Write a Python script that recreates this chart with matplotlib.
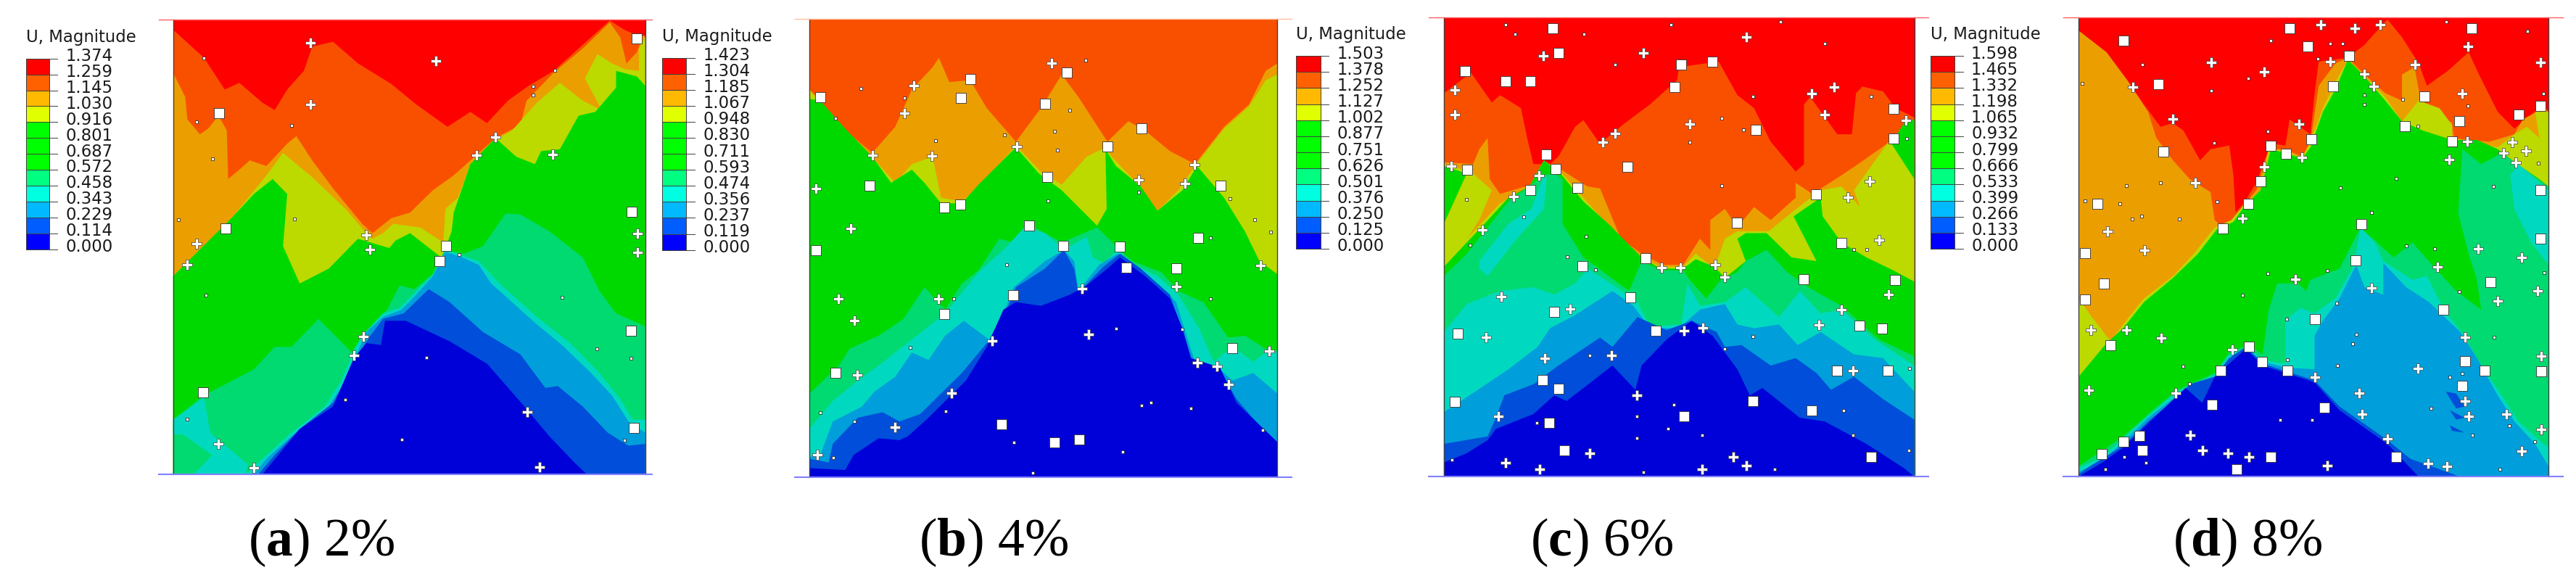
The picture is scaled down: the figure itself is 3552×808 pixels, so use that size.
import matplotlib
matplotlib.use("Agg")
import matplotlib.pyplot as plt

plt.rcParams['mathtext.fontset'] = 'custom'
plt.rcParams['mathtext.rm'] = 'Liberation Serif'
plt.rcParams['mathtext.bf'] = 'Liberation Serif:bold'

RED, ORANGERED, ORANGE, YELLOW = '#FE0000', '#F95000', '#EB9E00', '#BCDA00'
GREEN, TEAL, CYAN, SKY, BLUE, NAVY = '#00D900', '#00DA70', '#00D9C0', '#009EDA', '#004EDA', '#0000D9'
legend_colors = ['#FF0000', '#FF6000', '#FFB900', '#E0FF00', '#00FF00', '#00FF00', '#00FF00',
                 '#00FF80', '#00FFE0', '#00B9FF', '#005DFF', '#0000FF']

# tick labels
a_ticks = ['1.374', '1.259', '1.145', '1.030', '0.916', '0.801', '0.687', '0.572', '0.458', '0.343', '0.229', '0.114', '0.000']
b_ticks = ['1.423', '1.304', '1.185', '1.067', '0.948', '0.830', '0.711', '0.593', '0.474', '0.356', '0.237', '0.119', '0.000']
c_ticks = ['1.503', '1.378', '1.252', '1.127', '1.002', '0.877', '0.751', '0.626', '0.501', '0.376', '0.250', '0.125', '0.000']
d_ticks = ['1.598', '1.465', '1.332', '1.198', '1.065', '0.932', '0.799', '0.666', '0.533', '0.399', '0.266', '0.133', '0.000']

# ---- panel a: contour bands, painted top band first
a_orangered = [(418,82),(490,155),(540,240),(575,222),(630,275),(660,295),(690,240),(730,190),(750,125),(800,112),(860,170),(940,225),(1000,280),(1075,340),(1130,300),(1170,330),(1220,270),(1270,230),(1330,190),(1400,120),(1465,55),(1500,80),(1530,95),(1550,95),(1550,1272),(416,1272)]
a_orange = [(418,200),(445,260),(450,320),(480,360),(500,345),(525,310),(545,350),(548,480),(580,450),(600,430),(640,445),(690,385),(712,365),(750,430),(800,505),(870,600),(895,625),(940,585),(985,570),(1040,510),(1090,470),(1130,430),(1190,370),(1250,335),(1265,270),(1330,195),(1400,130),(1465,60),(1490,100),(1505,170),(1530,140),(1545,95),(1550,100),(1550,1272),(416,1272)]
a_yellow = [(416,740),(470,680),(560,580),(640,470),(680,410),(750,475),(830,560),(880,625),(895,640),(920,625),(945,600),(1010,610),(1065,650),(1070,560),(1100,530),(1130,440),(1190,375),(1230,350),(1290,275),(1345,222),(1400,270),(1445,295),(1405,210),(1435,145),(1470,170),(1500,185),(1535,190),(1535,130),(1550,100),(1550,1272),(416,1272)]
a_green = [(416,740),(470,680),(560,580),(610,520),(655,480),(690,520),(680,660),(720,760),(790,720),(860,640),(890,650),(935,665),(950,645),(985,625),(1060,690),(1075,650),(1085,620),(1090,570),(1130,440),(1190,370),(1240,420),(1285,440),(1300,405),(1345,400),(1390,310),(1430,300),(1480,235),(1480,190),(1530,205),(1550,230),(1550,1272),(416,1272)]
a_teal = [(416,1125),(490,1060),(610,990),(660,930),(700,930),(765,855),(845,945),(870,900),(930,830),(960,765),(995,775),(1040,735),(1070,670),(1115,680),(1160,660),(1215,572),(1250,575),(1320,620),(1400,690),(1440,780),(1480,840),(1550,875),(1550,1272),(416,1272)]
a_cyan_left = [(416,1125),(490,1065),(505,1160),(595,1245),(590,1272),(465,1272),(510,1220),(440,1165),(416,1165)]
a_cyan = [(590,1272),(620,1240),(700,1160),(780,1090),(820,1020),(850,940),(870,900),(920,840),(960,825),(1000,780),(1040,735),(1070,670),(1110,685),(1150,700),(1200,760),(1290,850),(1370,920),(1440,1000),(1490,1070),(1520,1125),(1550,1125),(1550,1272)]
a_sky = [(610,1272),(640,1230),(700,1170),(790,1090),(830,1020),(860,940),(880,890),(920,850),(965,830),(1000,790),(1040,740),(1070,675),(1110,690),(1150,710),(1180,760),(1290,870),(1350,925),(1420,1000),(1470,1060),(1510,1130),(1550,1160),(1550,1272)]
a_blue = [(620,1272),(660,1220),(720,1150),(800,1080),(830,1020),(860,950),(890,900),(920,855),(970,840),(1030,775),(1080,810),(1160,890),(1250,950),(1310,1040),(1340,1035),(1400,1090),(1460,1160),(1510,1195),(1550,1190),(1550,1272)]
a_navy = [(630,1272),(720,1150),(800,1090),(850,960),(880,920),(915,925),(925,860),(975,860),(1080,915),(1170,975),(1260,1090),(1320,1170),(1380,1240),(1410,1272)]
a_big = [(527,303),(541,612),(1071,660),(1056,699),(1530,104),(1517,568),(1516,887),(488,1052),(1523,1147)]
a_small = [(490,155),(473,327),(701,337),(511,426),(428,589),(707,588),(495,791),(1333,188),(1280,231),(1280,254),(1102,682),(1351,797),(1433,936),(1516,961),(1025,958),(829,1072),(965,1179),(450,1123),(1500,1180)]
a_plus = [(745,114),(1047,163),(745,280),(1190,368),(1145,417),(1327,414),(880,629),(888,669),(473,654),(450,710),(1532,626),(1532,676),(873,903),(850,952),(1266,1105),(1296,1253),(525,1189),(609,1254)]

# ---- panel b
b_orange = [(394,240),(420,270),(470,340),(545,410),(600,340),(640,240),(690,180),(705,155),(730,220),(780,215),(820,290),(890,380),(950,290),(1000,200),(1040,260),(1110,380),(1160,325),(1200,350),(1260,405),(1320,440),(1390,340),(1450,280),(1490,190),(1518,170),(1518,1280),(394,1280)]
b_yellow = [(394,240),(420,275),(470,345),(540,415),(600,490),(640,440),(690,420),(710,530),(760,540),(800,500),(890,390),(950,460),(1000,495),(1060,420),(1105,395),(1120,420),(1180,490),(1210,540),(1230,565),(1280,510),(1320,445),(1390,345),(1450,285),(1490,215),(1518,200),(1518,1280),(394,1280)]
b_green = [(394,265),(420,270),(480,345),(545,420),(590,490),(640,455),(670,490),(710,545),(760,545),(800,495),(890,395),(945,465),(1000,510),(1085,605),(1108,560),(1105,400),(1130,445),(1190,500),(1230,565),(1290,510),(1325,445),(1390,530),(1440,620),(1475,700),(1518,735),(1518,1280),(394,1280)]
b_teal = [(394,1055),(465,980),(490,935),(560,900),(620,855),(670,770),(720,830),(760,760),(800,725),(850,640),(885,650),(920,600),(1000,650),(1085,610),(1140,670),(1170,700),(1240,730),(1280,780),(1340,810),(1400,905),(1440,900),(1490,935),(1518,940),(1518,1280),(394,1280)]
b_cyan = [(394,1150),(450,1075),(510,1020),(560,980),(640,910),(720,840),(800,730),(860,670),(910,610),(960,625),(1005,670),(1060,635),(1075,690),(1100,705),(1135,670),(1165,705),(1230,740),(1280,790),(1330,880),(1365,970),(1410,930),(1460,970),(1495,940),(1518,945),(1518,1280),(394,1280)]
b_sky = [(394,1225),(420,1220),(450,1130),(520,1090),(550,1050),(600,1010),(640,945),(680,965),(720,900),(765,860),(825,910),(860,840),(885,770),(960,700),(1005,670),(1030,700),(1040,780),(1090,710),(1135,680),(1170,720),(1240,770),(1275,810),(1300,900),(1320,970),(1370,980),(1410,1020),(1460,1000),(1518,1055),(1518,1280),(394,1280)]
b_blue = [(394,1230),(440,1240),(450,1190),(510,1120),(570,1105),(610,1130),(660,1110),(760,1000),(850,880),(890,770),(960,720),(1005,670),(1030,720),(1040,785),(1100,715),(1140,680),(1190,720),(1260,790),(1285,870),(1315,970),(1380,990),(1420,1070),(1470,1135),(1518,1185),(1518,1280),(394,1280)]
b_navy = [(394,1255),(480,1260),(500,1220),(560,1175),(610,1180),(630,1170),(680,1120),(770,1020),(820,930),(860,830),(890,810),(950,820),(1020,790),(1060,765),(1110,720),(1140,690),(1200,740),(1260,800),(1290,880),(1310,960),(1380,985),(1420,1080),(1518,1185),(1518,1280),(394,1280)]
b_big = [(420,261),(780,212),(757,262),(1012,195),(960,278),(1191,344),(1109,393),(966,475),(538,497),(718,556),(756,548),(921,604),(410,670),(1004,660),(1140,662),(1155,717),(1328,637),(1276,719),(1381,498),(884,791),(718,842),(456,999),(1409,933),(855,1137),(982,1186),(1041,1178)]
b_small = [(518,238),(622,262),(1057,161),(457,317),(697,377),(862,361),(1019,295),(982,352),(989,402),(967,539),(1184,516),(1404,533),(1464,590),(1501,623),(1358,637),(868,710),(741,801),(1358,801),(1289,882),(1131,881),(636,932),(420,1106),(502,1129),(451,1227),(721,1103),(885,1186),(930,1268),(1146,1211),(1191,1087),(1214,1079),(1311,1095),(1482,1153)]
b_plus = [(975,169),(645,229),(622,303),(546,417),(689,418),(892,393),(1319,442),(1184,483),(1297,491),(410,506),(493,613),(1478,712),(463,801),(703,801),(501,859),(1275,768),(1048,774),(832,914),(1064,897),(1498,941),(509,1006),(1325,972),(1372,981),(1401,1030),(735,1054),(600,1145),(413,1220)]

# ---- panel c
c_orangered = [(385,250),(450,195),(500,275),(520,255),(570,290),(585,370),(600,440),(640,440),(660,420),(700,340),(720,322),(760,385),(820,330),(880,280),(945,215),(950,180),(1045,165),(1090,255),(1130,290),(1170,380),(1230,460),(1250,440),(1250,280),(1265,260),(1330,360),(1365,360),(1375,250),(1390,232),(1440,245),(1470,290),(1515,315),(1515,1278),(385,1278)]
c_orange = [(385,435),(455,440),(470,400),(490,370),(495,480),(520,520),(580,500),(605,490),(660,450),(730,500),(760,505),(810,640),(860,680),(910,710),(960,710),(1000,640),(1025,670),(1025,590),(1060,560),(1090,610),(1130,555),(1170,590),(1230,530),(1230,490),(1270,520),(1340,470),(1380,440),(1450,385),(1515,320),(1515,1278),(385,1278)]
c_yellow = [(385,440),(450,460),(500,510),(470,590),(440,640),(520,545),(590,500),(625,430),(665,460),(720,530),(760,580),(810,650),(860,690),(905,715),(960,715),(990,680),(1035,720),(1060,640),(1090,620),(1165,620),(1220,570),(1290,510),(1340,500),(1385,555),(1370,510),(1450,385),(1490,340),(1515,325),(1515,1278),(385,1278)]
c_green_left = [(385,445),(440,465),(385,600)]
c_green_right = [(1460,385),(1490,330),(1515,320),(1515,480)]
c_green = [(385,715),(440,650),(470,615),(540,530),(590,500),(625,430),(665,465),(720,540),(780,600),(860,690),(905,720),(960,720),(990,695),(1035,715),(1060,745),(1110,700),(1090,640),(1110,625),(1160,625),(1220,690),(1280,700),(1225,580),(1290,530),(1295,580),(1340,650),(1400,690),(1465,725),(1515,755),(1515,1278),(385,1278)]
c_teal = [(385,740),(440,680),(540,540),(625,470),(650,465),(670,480),(670,600),(720,690),(830,780),(860,700),(905,725),(960,725),(975,750),(1015,800),(1050,750),(1090,730),(1110,700),(1160,670),(1210,730),(1260,770),(1340,820),(1430,910),(1515,955),(1515,1278),(385,1278)]
c_cyan_top = [(470,700),(540,600),(595,560),(625,470),(632,475),(625,560),(560,640),(490,740),(470,720)]
c_cyan = [(385,890),(440,815),(520,780),(600,770),(650,790),(700,760),(730,720),(800,770),(850,810),(880,875),(955,870),(970,760),(1000,820),(1060,810),(1110,770),(1190,850),(1240,780),(1290,840),(1340,830),(1420,910),(1515,980),(1515,1278),(385,1278)]
c_sky = [(385,1105),(460,1050),(540,990),(610,930),(640,880),(700,845),(790,780),(840,820),(880,880),(950,880),(1000,830),(1060,815),(1090,870),(1130,880),(1190,870),(1235,925),(1290,890),(1370,950),(1440,960),(1515,1050),(1515,1278),(385,1278)]
c_blue = [(385,1190),(490,1170),(510,1120),(530,1060),(600,1030),(660,980),(760,905),(790,930),(850,850),(920,885),(980,860),(1040,890),(1060,930),(1100,925),(1170,980),(1230,960),(1280,1000),(1315,1045),(1370,1010),(1440,1070),(1515,1125),(1515,1278),(385,1278)]
c_navy = [(385,1240),(440,1215),(490,1180),(510,1150),(600,1110),(650,1060),(680,1075),(790,980),(845,1045),(860,980),(920,910),(980,860),(1030,900),(1090,990),(1120,1060),(1150,1040),(1240,1120),(1300,1130),(1400,1190),(1490,1255),(1515,1278),(385,1278)]
c_big = [(646,75),(660,141),(435,191),(533,217),(593,217),(954,174),(1029,165),(939,234),(1465,291),(1466,372),(1134,349),(630,415),(441,455),(653,453),(826,448),(592,510),(705,504),(1278,521),(1089,596),(1340,651),(870,693),(718,714),(1249,749),(1468,750),(832,797),(650,837),(893,887),(1384,873),(1438,880),(418,895),(622,1018),(660,1043),(1330,993),(1451,993),(411,1077),(1127,1076),(1269,1101),(638,1133),(961,1116),(675,1208),(1411,1224)]
c_small = [(533,67),(556,91),(721,91),(931,67),(1194,58),(1299,116),(796,174),(1127,258),(1412,258),(1052,316),(1104,349),(976,381),(1497,371),(1052,498),(439,535),(576,581),(726,633),(447,657),(681,689),(749,723),(1370,668),(1401,668),(1127,903),(1059,936),(735,952),(1503,987),(1345,1100),(938,1084),(848,1117),(608,1133),(923,1150),(848,1174),(1006,1166),(1367,1166),(1502,1208),(404,1233),(864,1265),(1179,1257)]
c_plus = [(1111,100),(864,141),(623,150),(412,242),(412,307),(1269,250),(1322,234),(1299,308),(1495,323),(976,332),(796,358),(766,382),(403,446),(614,470),(553,527),(1407,487),(1355,528),(477,617),(1431,644),(907,718),(953,718),(1037,710),(1060,742),(522,796),(688,829),(1453,790),(1340,831),(1285,871),(486,904),(961,887),(1007,878),(628,961),(788,953),(1368,993),(848,1059),(516,1117),(533,1241),(615,1257),(736,1216),(1080,1224),(1111,1249),(1006,1257)]

# ---- panel d
d_orangered = [(373,82),(440,140),(490,215),(530,280),(570,340),(600,330),(625,350),(665,430),(690,400),(735,390),(745,470),(750,570),(770,545),(800,490),(835,385),(870,390),(880,320),(930,360),(940,250),(950,165),(1020,155),(1060,120),(1115,52),(1150,100),(1190,170),(1210,230),(1260,190),(1310,140),(1335,200),(1380,300),(1420,345),(1490,280),(1502,300),(1502,1278),(373,1278)]
d_orange = [(373,82),(440,140),(490,215),(540,300),(560,370),(600,430),(640,480),(690,515),(700,590),(720,610),(750,590),(770,550),(800,510),(830,400),(870,400),(910,420),(930,380),(950,230),(990,170),(1020,155),(1060,200),(1110,250),(1150,270),(1150,200),(1180,180),(1195,270),(1270,330),(1275,370),(1310,375),(1360,380),(1420,360),(1440,320),(1490,290),(1502,300),(1502,1278),(373,1278)]
d_yellow = [(373,800),(405,850),(450,915),(480,870),(530,800),(600,740),(650,680),(700,610),(740,590),(770,550),(810,510),(830,400),(870,405),(910,425),(930,380),(960,290),(990,220),(1020,160),(1060,205),(1110,260),(1150,325),(1190,270),(1240,290),(1270,335),(1270,370),(1380,395),(1420,360),(1450,340),(1480,370),(1470,300),(1502,300),(1502,1278),(373,1278)]
d_green = [(373,1010),(440,920),(480,880),(530,810),(600,745),(660,680),(705,615),(745,595),(770,555),(810,510),(835,400),(870,410),(910,425),(930,395),(960,300),(990,240),(1020,160),(1060,205),(1110,270),(1150,325),(1200,350),(1270,375),(1330,375),(1380,400),(1440,450),(1480,480),(1502,500),(1502,1278),(373,1278)]
d_teal = [(373,1250),(420,1215),(480,1170),(540,1110),(610,1045),(700,1000),(735,945),(780,925),(815,950),(830,830),(850,760),(900,760),(920,780),(930,750),(1000,720),(1050,610),(1090,650),(1130,690),(1175,650),(1230,720),(1280,780),(1340,830),(1330,750),(1310,680),(1285,570),(1295,400),(1340,440),(1390,410),(1440,450),(1502,500),(1502,1278),(373,1278)]
d_cyan_top = [(1410,470),(1430,440),(1480,490),(1502,510),(1502,710),(1460,650),(1420,560)]
d_cyan = [(373,1255),(430,1225),(480,1175),(540,1115),(610,1050),(700,1005),(735,950),(780,930),(815,965),(870,975),(870,860),(905,825),(940,840),(990,800),(1035,710),(1050,610),(1085,650),(1105,700),(1175,750),(1210,740),(1250,830),(1300,900),(1340,980),(1390,1060),(1430,1130),(1490,1190),(1502,1200),(1502,1278),(373,1278)]
d_sky = [(373,1265),(430,1235),(480,1185),(540,1120),(610,1060),(700,1010),(735,960),(780,935),(815,970),(870,985),(940,990),(940,900),(960,860),(1000,800),(1040,710),(1060,770),(1105,790),(1105,705),(1160,770),(1215,810),(1290,890),(1330,960),(1380,1060),(1420,1130),(1470,1190),(1502,1250),(1502,1278),(373,1278)]
d_blue = [(373,1272),(400,1250),(480,1195),(540,1130),(610,1065),(640,1030),(700,1010),(735,960),(775,930),(815,975),(940,1020),(1000,1090),(1115,1180),(1170,1230),(1290,1278),(373,1278)]
d_blue_spot1 = [(1255,1050),(1280,1055),(1300,1090),(1280,1095)]
d_blue_spot2 = [(1265,1100),(1300,1120),(1280,1125)]
d_blue_spot3 = [(1265,1140),(1300,1160),(1270,1155)]
d_navy = [(373,1278),(430,1240),(480,1200),(545,1130),(630,1040),(670,1080),(700,1010),(735,975),(775,935),(815,980),(940,1025),(1000,1100),(1115,1190),(1190,1278)]
d_big = [(879,75),(1317,75),(481,108),(924,124),(1022,149),(564,226),(984,232),(1204,258),(1157,338),(1287,325),(1430,308),(1482,283),(1270,379),(932,373),(834,390),(871,413),(577,407),(811,487),(781,546),(419,547),(720,612),(1052,600),(1482,509),(1482,640),(389,679),(1038,698),(1363,756),(434,761),(389,803),(1250,830),(941,855),(450,925),(783,929),(813,970),(874,994),(715,994),(1302,969),(1348,994),(1484,995),(1295,1035),(693,1084),(963,1092),(519,1168),(481,1184),(527,1208),(428,1218),(835,1224),(1136,1224),(753,1257)]
d_small = [(1257,58),(1452,84),(834,108),(977,116),(1007,116),(947,157),(526,174),(781,210),(382,224),(691,243),(1060,255),(1060,280),(1151,266),(1309,283),(1489,251),(827,351),(698,383),(1188,338),(1477,437),(487,497),(569,489),(1001,503),(1136,478),(1369,500),(389,538),(472,546),(705,540),(1076,569),(525,579),(502,587),(615,588),(1160,659),(1228,667),(827,733),(970,725),(1491,731),(767,791),(993,813),(1288,781),(873,856),(1040,896),(1032,921),(1371,904),(874,964),(623,981),(994,979),(1295,1002),(1264,1011),(639,1028),(1219,1094),(858,1125),(933,1125),(1408,1142),(1318,1166),(1469,1184),(483,1224),(535,1241),(438,1257),(1385,1257)]
d_plus = [(954,67),(1037,75),(1098,67),(1309,124),(691,167),(977,166),(1181,174),(1482,167),(819,192),(1060,199),(503,234),(1082,232),(1294,251),(600,318),(902,333),(1415,381),(1307,379),(1447,405),(1393,411),(909,421),(1263,428),(1423,436),(819,448),(653,490),(767,586),(442,621),(532,670),(1332,666),(1438,690),(1235,716),(894,749),(1076,772),(1476,780),(1379,806),(403,884),(487,884),(571,907),(1302,905),(742,938),(1484,954),(1188,987),(941,1011),(607,1053),(398,1047),(1047,1053),(1302,1076),(1054,1110),(1401,1110),(1310,1117),(1484,1151),(641,1167),(1115,1176),(670,1208),(1438,1209),(731,1216),(783,1225),(1212,1242),(1258,1250),(970,1249)]

W, H = 3552, 808
# traced coordinates: 1568 units across 900 px, 1571 units down the 808 px
CROP_W, CROP_H = 1568, 1571

panels = [
    dict(left=0, box=(416, 1550, 52, 1272), lines=(382, 1568), top='#FF6060', base=RED,
         bands=[(ORANGERED, a_orangered), (ORANGE, a_orange), (YELLOW, a_yellow), (GREEN, a_green), (TEAL, a_teal),
                (CYAN, a_cyan_left), (CYAN, a_cyan), (SKY, a_sky), (BLUE, a_blue), (NAVY, a_navy)],
         big=a_big, small=a_small, plus=a_plus, ticks=a_ticks, bar=(62, 118, 157, 668), title_y=100,
         caption='($\\mathbf{a}$) 2%', cap_x=771),
    dict(left=890, box=(394, 1518, 50, 1280), lines=(359, 1553), top='#FFC0A0', base=ORANGERED,
         bands=[(ORANGE, b_orange), (YELLOW, b_yellow), (GREEN, b_green), (TEAL, b_teal),
                (CYAN, b_cyan), (SKY, b_sky), (BLUE, b_blue), (NAVY, b_navy)],
         big=b_big, small=b_small, plus=b_plus, ticks=b_ticks, bar=(40, 98, 155, 670), title_y=98,
         caption='($\\mathbf{b}$) 4%', cap_x=836),
    dict(left=1770, box=(385, 1515, 46, 1278), lines=(349, 1549), top='#FF6060', base=RED,
         bands=[(ORANGERED, c_orangered), (ORANGE, c_orange), (YELLOW, c_yellow), (GREEN, c_green_left),
                (GREEN, c_green_right), (GREEN, c_green), (TEAL, c_teal), (CYAN, c_cyan_top), (CYAN, c_cyan),
                (SKY, c_sky), (BLUE, c_blue), (NAVY, c_navy)],
         big=c_big, small=c_small, plus=c_plus, ticks=c_ticks, bar=(30, 88, 150, 667), title_y=93,
         caption='($\\mathbf{c}$) 6%', cap_x=765),
    dict(left=2652, box=(373, 1502, 46, 1278), lines=(337, 1537), top='#FF6060', base=RED,
         bands=[(ORANGERED, d_orangered), (ORANGE, d_orange), (YELLOW, d_yellow), (GREEN, d_green), (TEAL, d_teal),
                (CYAN, d_cyan_top), (CYAN, d_cyan), (SKY, d_sky), (BLUE, d_blue), (BLUE, d_blue_spot1),
                (BLUE, d_blue_spot2), (BLUE, d_blue_spot3), (NAVY, d_navy)],
         big=d_big, small=d_small, plus=d_plus, ticks=d_ticks, bar=(17, 75, 150, 667), title_y=93,
         caption='($\\mathbf{d}$) 8%', cap_x=778),
]

fig = plt.figure(figsize=(W / 100, H / 100), dpi=100)

for p in panels:
    ax = fig.add_axes([p['left'] / W, 0, 900 / W, 1])
    ax.set_xlim(0, CROP_W)
    ax.set_ylim(CROP_H, 0)
    ax.axis('off')
    ax.patch.set_alpha(0)

    x0, x1, y0, y1 = p['box']
    ax.fill([x0, x1, x1, x0], [y0, y0, y1, y1], color=p['base'], lw=0)
    for color, poly in p['bands']:
        ax.fill([v[0] for v in poly], [v[1] for v in poly], color=color, lw=0)
    ax.plot([x0, x0], [y0, y1], color='#404040', lw=1)
    ax.plot([x1, x1], [y0, y1], color='#404040', lw=1)
    ax.plot(p['lines'], [y0, y0], color=p['top'], lw=1)
    ax.plot(p['lines'], [y1, y1], color='#8080FF', lw=1.5)

    ax.plot([v[0] for v in p['big']], [v[1] for v in p['big']], 's', color='white', mec='#303030', mew=0.6, ms=9.8)
    ax.plot([v[0] for v in p['small']], [v[1] for v in p['small']], 's', color='white', mec='#303030', mew=0.6, ms=3.2)
    ax.plot([v[0] for v in p['plus']], [v[1] for v in p['plus']], 'P', color='white', mec='#404040', mew=0.5, ms=10)

    # legend
    bx0, bx1, by0, by1 = p['bar']
    step = (by1 - by0) / 12
    for i, color in enumerate(legend_colors):
        ax.bar(bx0, step, width=bx1 - bx0, bottom=by0 + i * step, align='edge', color=color, lw=0)
    ax.plot([bx0, bx1, bx1, bx0, bx0], [by0, by0, by1, by1, by0], color='#404040', lw=0.7)
    for i, label in enumerate(p['ticks']):
        y = by0 + i * step
        ax.plot([bx0, bx1 + 20], [y, y], color='#404040', lw=0.7)
        ax.text(bx1 + 40, y - 6, label, fontsize=16.4, family='DejaVu Sans', color='#1a1a1a', va='center', ha='left')
    ax.text(bx0, p['title_y'], 'U, Magnitude', fontsize=16.4, family='DejaVu Sans', color='#1a1a1a', va='center', ha='left')

    ax.text(p['cap_x'], 1455, p['caption'], fontsize=53, family='Liberation Serif', color='black', va='center', ha='center')

fig.savefig('out.png', dpi=100)
